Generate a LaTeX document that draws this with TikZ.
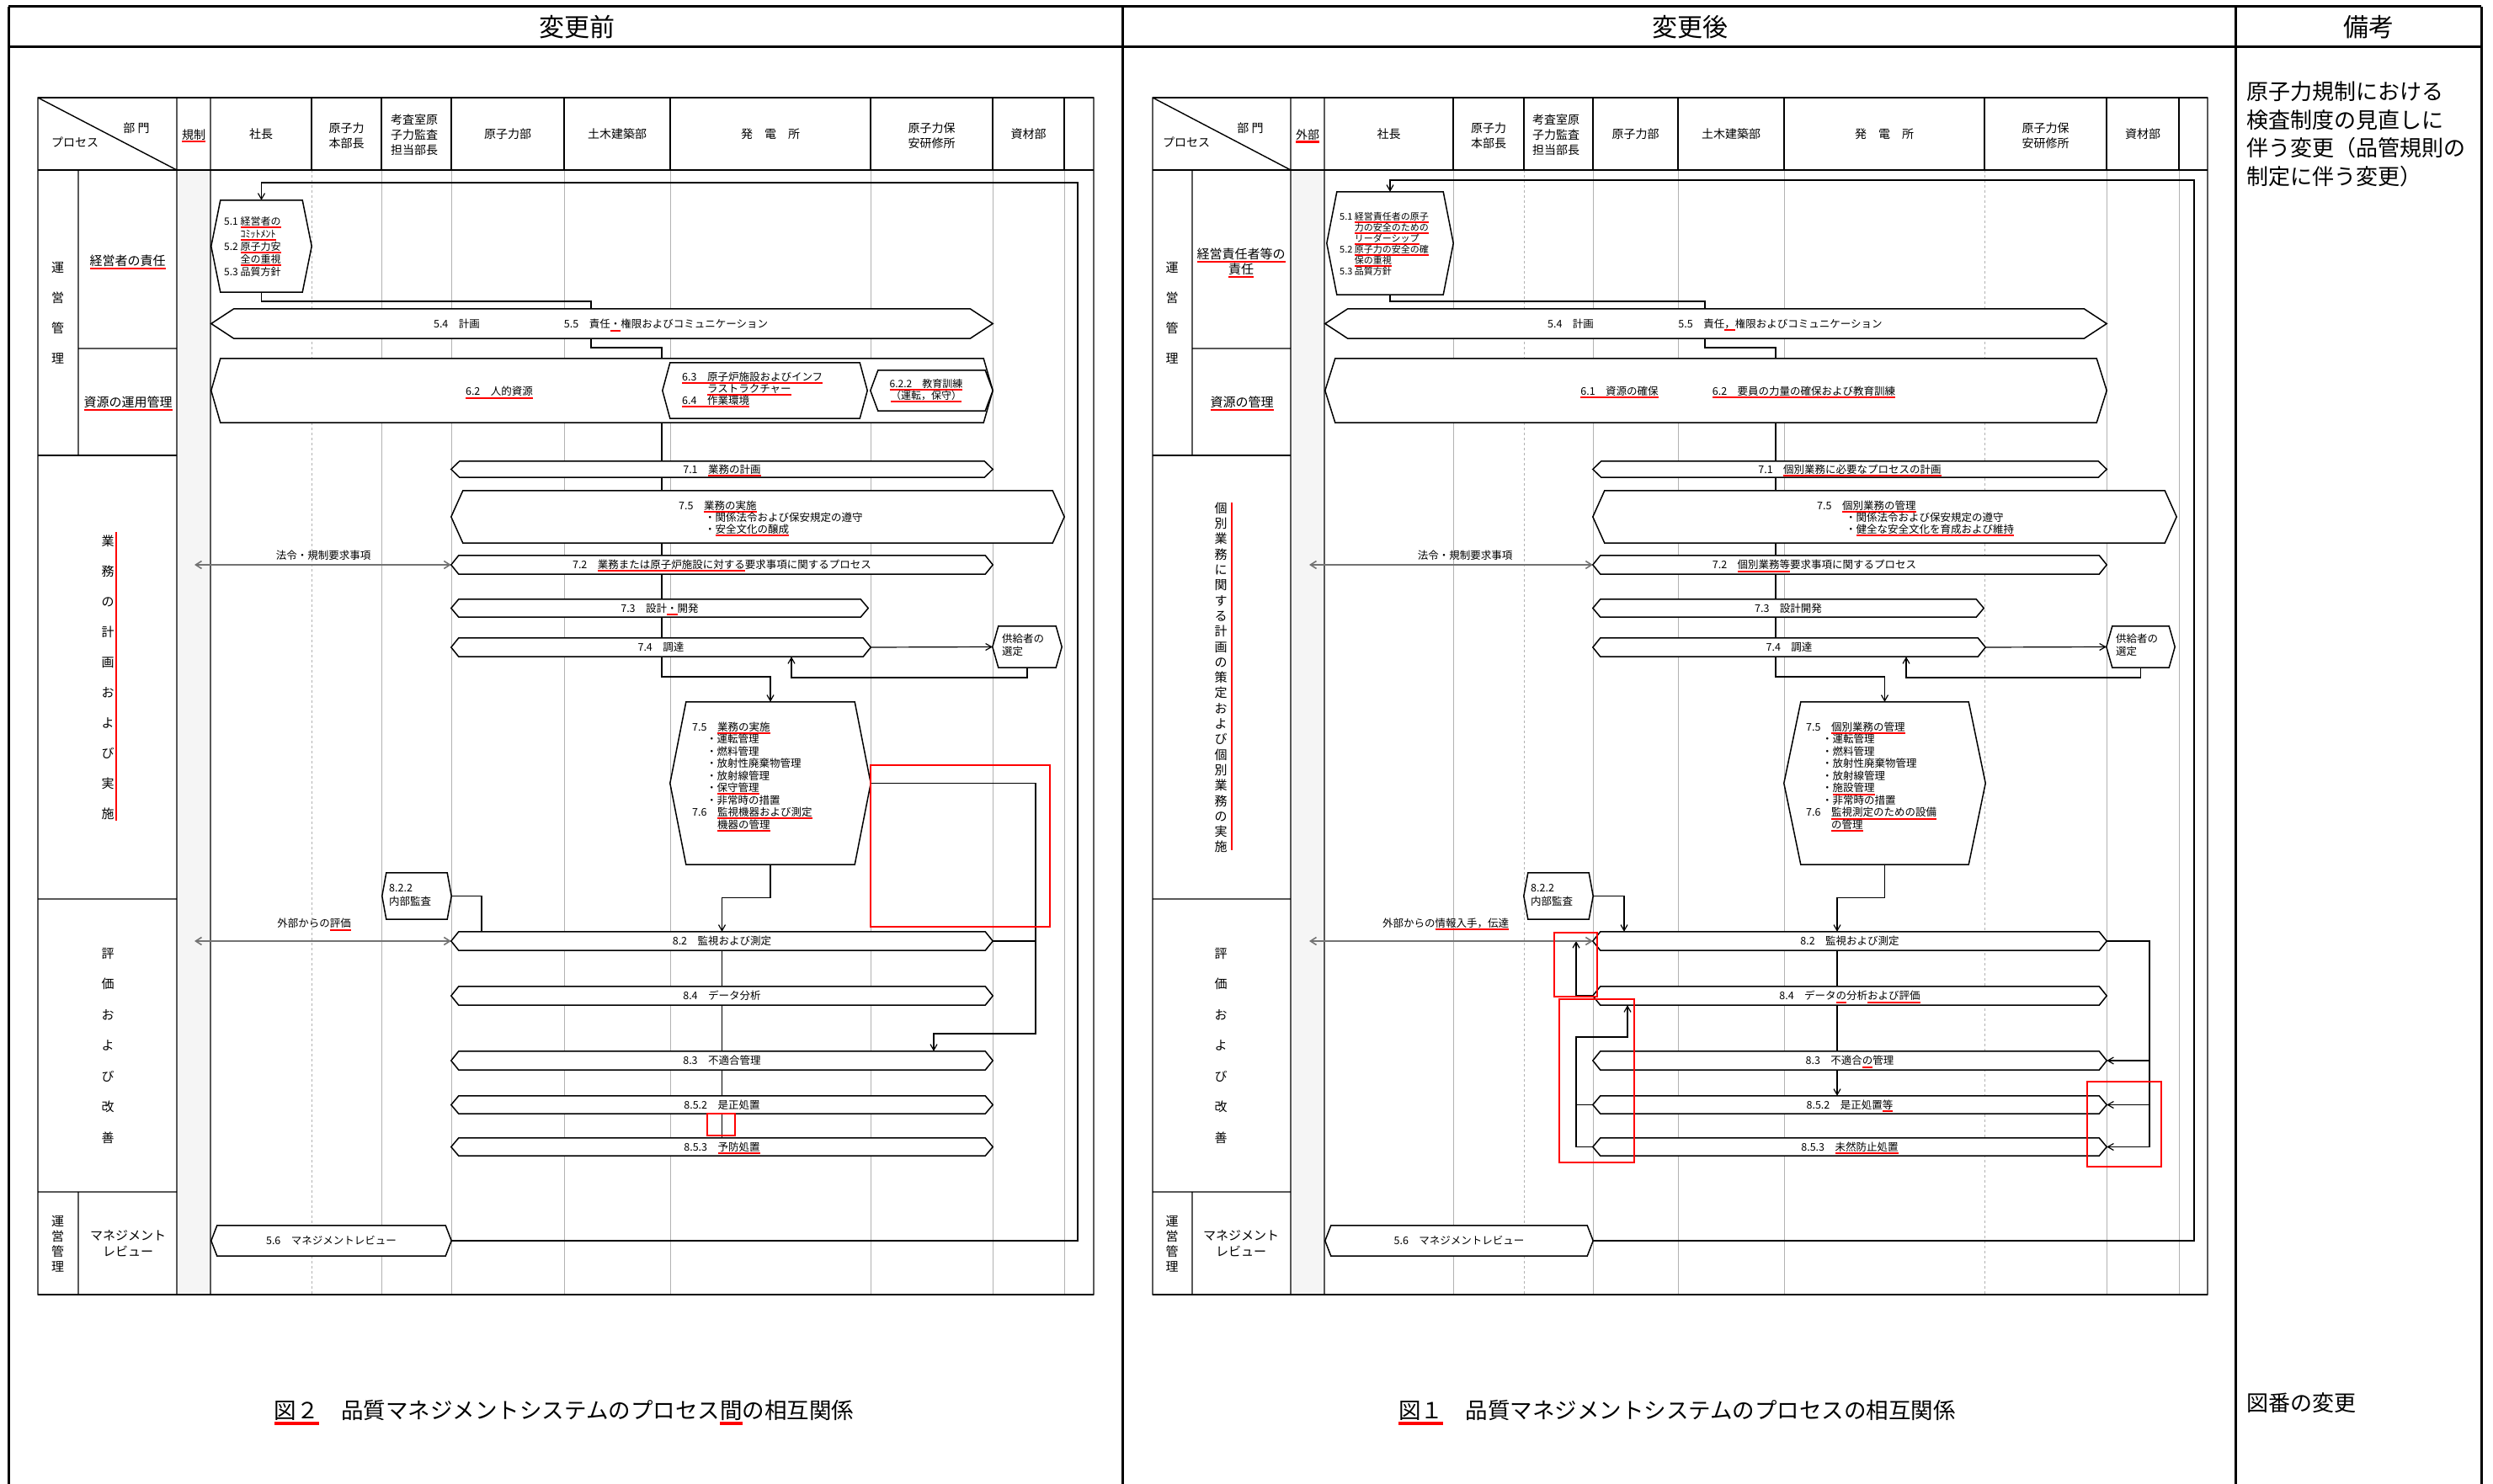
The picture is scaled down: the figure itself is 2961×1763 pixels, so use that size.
\documentclass[tikz,border=0pt]{standalone}
\usepackage{fontspec}
\setmainfont{Noto Sans CJK JP}
\usetikzlibrary{arrows.meta}
\pgfdeclarelayer{lines}
\pgfdeclarelayer{shapes}
\pgfsetlayers{lines,shapes,main}
\newsavebox\rulbox
\newcommand\rul[1]{\sbox\rulbox{#1}\rlap{\smash{\color{red}\rule[-0.3em]{\wd\rulbox}{0.16em}}}\usebox\rulbox}

\begin{document}
\begin{tikzpicture}[
    x=1pt, y=-1pt,
    pageline/.style={line width=3},
    frameline/.style={line width=1.4},
    lanegrid/.style={draw=black!30, line width=1},
    procbox/.style={inner sep=0, font=\fontsize{12.5}{14.5}\selectfont},
    procline/.style={draw=black, fill=white, line width=1.5},
    note/.style={inner sep=0, align=left, anchor=north west, font=\fontsize{12.5}{14.5}\selectfont},
    lane/.style={inner sep=0, align=center, font=\fontsize{15}{19}\selectfont},
    dept/.style={inner sep=0, align=center, font=\fontsize{14}{18}\selectfont},
    con/.style={line width=1.2},
    arr/.style={con, -{Straight Barb[length=7pt,width=8pt]}},
    darr/.style={draw=black!55, line width=1.6, {Straight Barb[length=7pt,width=9pt]}-{Straight Barb[length=7pt,width=9pt]}},
    redbox/.style={draw=red, line width=2}
]
\useasboundingbox (0,0) rectangle (2961,1763);

% page header
\node[inner sep=0, font=\fontsize{30}{36}\selectfont] (hbefore) at (685,32) {変更前};
\node[inner sep=0, font=\fontsize{30}{36}\selectfont] (hafter) at (2007,32) {変更後};
\node[inner sep=0, font=\fontsize{30}{36}\selectfont] (hnote) at (2813,32) {備考};
\node[inner sep=0, align=left, anchor=north west, font=\fontsize{26}{33.5}\selectfont] (rem1) at (2668,97)
    {原子力規制における\\検査制度の見直しに\\伴う変更（品管規則の\\制定に伴う変更）};
\node[inner sep=0, anchor=west, font=\fontsize{26}{30}\selectfont] (rem2) at (2668,1667) {図番の変更};
\node[inner sep=0, font=\fontsize{26.5}{30}\selectfont] (cap1) at (670,1675)
    {\rul{図２}　品質マネジメントシステムのプロセス\rul{間}の相互関係};
\node[inner sep=0, font=\fontsize{26.5}{30}\selectfont] (cap2) at (1992,1675)
    {\rul{図１}　品質マネジメントシステムのプロセスの相互関係};

% ---- before: header and lanes
\node[dept] (od0) at (162,152) {部 門};
\node[dept] (od1) at (89,169) {プロセス};
\node[dept] (odkisei) at (230,160) {\rul{規制}};
\node[dept] (odpres) at (310,159) {社長};
\node[dept] (odnhq) at (411.5,161) {原子力\\本部長};
\node[dept] (odaudit) at (492,160) {考査室原\\子力監査\\担当部長};
\node[dept] (odnuc) at (603,159) {原子力部};
\node[dept] (odcivil) at (733,159) {土木建築部};
\node[dept] (odplant) at (915,159) {発　電　所};
\node[dept] (odtrain) at (1106.5,161) {原子力保\\安研修所};
\node[dept] (odmat) at (1221.5,159) {資材部};

\node[lane, font=\fontsize{15}{36}\selectfont] (ol1) at (68.5,372) {運\\営\\管\\理};
\node[lane] (ol2) at (151.5,310) {\rul{経営者の責任}};
\node[lane] (ol3) at (152,478) {\rul{資源の運用管理}};
\node[lane, font=\fontsize{15}{36}\selectfont] (ol4) at (128,805) {業\\務\\の\\計\\画\\お\\よ\\び\\実\\施};
\node[lane, font=\fontsize{15}{36.5}\selectfont] (ol5) at (128,1242.5) {評\\価\\お\\よ\\び\\改\\善};
\node[lane, font=\fontsize{15}{18}\selectfont] (ol6) at (68.5,1478) {運\\営\\管\\理};
\node[lane] (ol7) at (152,1477) {マネジメント\\レビュー};

% ---- before: processes
\node[procbox, minimum width=119, minimum height=109] (o51) at (310.5,292.5) {};
\node[note, font=\fontsize{12}{15}\selectfont] (o51t) at (266,257.5)
    {5.1 \rul{経営者の}\\\phantom{5.1 }\rul{ｺﾐｯﾄﾒﾝﾄ}\\5.2 \rul{原子力安}\\\phantom{5.2 }\rul{全の重視}\\5.3 品質方針};
\node[procbox, minimum width=928, minimum height=35] (o54) at (715,384.5) {};
\node[procbox] (o54a) at (542.5,385) {5.4　計画};
\node[procbox] (o54b) at (791,385) {5.5　責任\rul{・}権限およびコミュニケーション};
\node[procbox, minimum width=928, minimum height=76] (o62) at (715,464) {};
\node[procbox] (o62t) at (593,465) {\rul{6.2　人的資源}};
\node[procbox, minimum width=243, minimum height=66] (o63) at (908.5,464) {};
\node[note, font=\fontsize{12.5}{14}\selectfont] (o63t) at (810,441.5)
    {\rul{6.3　原子炉施設およびインフ}\\\phantom{6.3　}\rul{ラストラクチャー}\\\rul{6.4　作業環境}};
\node[procbox, minimum width=145, minimum height=48] (o622) at (1106.5,464) {};
\node[procbox, align=center, font=\fontsize{12}{14}\selectfont] (o622t) at (1100,463) {\rul{6.2.2　教育訓練}\\\rul{（運転，保守）}};
\node[procbox, minimum width=643, minimum height=19] (o71) at (857.5,557.5) {7.1　\rul{業務の計画}};
\node[procbox, minimum width=728, minimum height=62] (o75b) at (900,614) {};
\node[note, font=\fontsize{12.5}{14}\selectfont] (o75bt) at (806,594.5)
    {7.5　\rul{業務の実施}\\\hspace*{31pt}・関係法令および保安規定の遵守\\\hspace*{31pt}・\rul{安全文化の醸成}};
\node[procbox, minimum width=643, minimum height=22] (o72) at (857.5,671) {7.2　\rul{業務または原子炉施設に対する}要求事項に関するプロセス};
\node[procbox, minimum width=495, minimum height=21] (o73) at (783.5,722.5) {7.3　設計\rul{・}開発};
\node[procbox, minimum width=498, minimum height=22] (o74) at (785,769) {7.4　調達};
\node[procbox, minimum width=82, minimum height=49] (o74s) at (1220,768.5) {};
\node[note, font=\fontsize{12.5}{15}\selectfont] (o74st) at (1190,752.5) {供給者の\\選定};
\node[procbox, minimum width=238, minimum height=193] (o75) at (915,930.5) {};
\node[note] (o75t) at (822,857.5)
    {7.5　\rul{業務の実施}\\
     \hspace*{17pt}・運転管理\\
     \hspace*{17pt}・燃料管理\\
     \hspace*{17pt}・放射性廃棄物管理\\
     \hspace*{17pt}・放射線管理\\
     \hspace*{17pt}・\rul{保守管理}\\
     \hspace*{17pt}・非常時の措置\\
     7.6　\rul{監視機器および測定}\\
     \phantom{7.6　}\rul{機器の管理}};
\node[procbox, minimum width=82, minimum height=55] (o822) at (495,1064.5) {};
\node[note, font=\fontsize{12.5}{16}\selectfont] (o822t) at (462,1050.5) {8.2.2\\内部監査};
\node[procbox, minimum width=643, minimum height=22] (o82) at (857.5,1118) {8.2　監視および測定};
\node[procbox, minimum width=643, minimum height=22] (o84) at (857.5,1183) {8.4　データ分析};
\node[procbox, minimum width=643, minimum height=22] (o83) at (857.5,1260) {8.3　不適合管理};
\node[procbox, minimum width=643, minimum height=21] (o852) at (857.5,1312.5) {8.5.2　是正処置};
\node[procbox, minimum width=643, minimum height=21] (o853) at (857.5,1362.5) {8.5.3　\rul{予防処置}};
\node[procbox, minimum width=285, minimum height=36] (o56) at (393.5,1474) {5.6　マネジメントレビュー};
\coordinate (olaw) at (231,671);
\coordinate (oext) at (231,1118);
\node[procbox] (olawt) at (384,660) {法令・規制要求事項};
\node[procbox] (oextt) at (373,1097) {外部からの\rul{評価}};

% ---- after: header and lanes
\node[dept] (nd0) at (1485,152) {部 門};
\node[dept] (nd1) at (1409,169) {プロセス};
\node[dept] (ndext) at (1553,160) {\rul{外部}};
\node[dept] (ndpres) at (1649.5,159) {社長};
\node[dept] (ndnhq) at (1768,161) {原子力\\本部長};
\node[dept] (ndaudit) at (1848,160) {考査室原\\子力監査\\担当部長};
\node[dept] (ndnuc) at (1942.5,159) {原子力部};
\node[dept] (ndcivil) at (2056,159) {土木建築部};
\node[dept] (ndplant) at (2238,159) {発　電　所};
\node[dept] (ndtrain) at (2429.5,161) {原子力保\\安研修所};
\node[dept] (ndmat) at (2545,159) {資材部};

\node[lane, font=\fontsize{15}{36}\selectfont] (nl1) at (1392,372) {運\\営\\管\\理};
\node[lane, font=\fontsize{15}{18}\selectfont] (nl2) at (1474,311) {\rul{経営責任者等の}\\\rul{責任}};
\node[lane] (nl3) at (1475,478) {\rul{資源の管理}};
\node[lane, font=\fontsize{15}{18.3}\selectfont] (nl4) at (1450,805)
    {個\\別\\業\\務\\に\\関\\す\\る\\計\\画\\の\\策\\定\\お\\よ\\び\\個\\別\\業\\務\\の\\実\\施};
\node[lane, font=\fontsize{15}{36.5}\selectfont] (nl5) at (1450,1242.5) {評\\価\\お\\よ\\び\\改\\善};
\node[lane, font=\fontsize{15}{18}\selectfont] (nl6) at (1392,1478) {運\\営\\管\\理};
\node[lane] (nl7) at (1474,1477) {マネジメント\\レビュー};

% ---- after: processes
\node[procbox, minimum width=150, minimum height=122] (n51) at (1651,289) {};
\node[note, font=\fontsize{11}{13}\selectfont] (n51t) at (1591,252)
    {5.1 \rul{経営責任者の原子}\\\phantom{5.1 }\rul{力の安全のための}\\\phantom{5.1 }\rul{リーダーシップ}\\5.2 \rul{原子力の安全の確}\\\phantom{5.2 }\rul{保の重視}\\5.3 品質方針};
\node[procbox, minimum width=928, minimum height=35] (n54) at (2038,384.5) {};
\node[procbox] (n54a) at (1865.5,385) {5.4　計画};
\node[procbox] (n54b) at (2114.5,385) {5.5　責任\rul{，}権限およびコミュニケーション};
\node[procbox, minimum width=928, minimum height=76] (n61) at (2038,464) {};
\node[procbox] (n61a) at (1923.5,465) {\rul{6.1　資源の確保}};
\node[procbox] (n61b) at (2142.5,465) {\rul{6.2　要員の力量の確保および教育訓練}};
\node[procbox, minimum width=610, minimum height=19] (n71) at (2197,557.5) {7.1　\rul{個別業務に必要なプロセスの計画}};
\node[procbox, minimum width=693, minimum height=62] (n75b) at (2238.5,614) {};
\node[note, font=\fontsize{12.5}{14}\selectfont] (n75bt) at (2158,594.5)
    {7.5　\rul{個別業務の管理}\\\hspace*{34pt}・関係法令および保安規定の遵守\\\hspace*{34pt}・\rul{健全な安全文化を育成および維持}};
\node[procbox, minimum width=610, minimum height=22] (n72) at (2197,671) {};
\node[procbox] (n72t) at (2155,671) {7.2　\rul{個別業務等}要求事項に関するプロセス};
\node[procbox, minimum width=464, minimum height=21] (n73) at (2124,722.5) {7.3　設計開発};
\node[procbox, minimum width=466, minimum height=22] (n74) at (2125,769) {7.4　調達};
\node[procbox, minimum width=81, minimum height=49] (n74s) at (2542.5,768.5) {};
\node[note, font=\fontsize{12.5}{15}\selectfont] (n74st) at (2513,752.5) {供給者の\\選定};
\node[procbox, minimum width=239, minimum height=193] (n75) at (2238.5,930.5) {};
\node[note] (n75t) at (2145,857.5)
    {7.5　\rul{個別業務の管理}\\
     \hspace*{19pt}・運転管理\\
     \hspace*{19pt}・燃料管理\\
     \hspace*{19pt}・放射性廃棄物管理\\
     \hspace*{19pt}・放射線管理\\
     \hspace*{19pt}・\rul{施設管理}\\
     \hspace*{19pt}・非常時の措置\\
     7.6　\rul{監視測定のための設備}\\
     \phantom{7.6　}\rul{の管理}};
\node[procbox, minimum width=82, minimum height=55] (n822) at (1851,1064.5) {};
\node[note, font=\fontsize{12.5}{16}\selectfont] (n822t) at (1818,1050.5) {8.2.2\\内部監査};
\node[procbox, minimum width=610, minimum height=22] (n82) at (2197,1118) {8.2　監視および測定};
\node[procbox, minimum width=610, minimum height=22] (n84) at (2197,1183) {8.4　データ\rul{の}分析\rul{および評価}};
\node[procbox, minimum width=610, minimum height=22] (n83) at (2197,1260) {8.3　不適合\rul{の}管理};
\node[procbox, minimum width=610, minimum height=21] (n852) at (2197,1312.5) {8.5.2　是正処置\rul{等}};
\node[procbox, minimum width=610, minimum height=21] (n853) at (2197,1362.5) {8.5.3　\rul{未然防止処置}};
\node[procbox, minimum width=318, minimum height=36] (n56) at (1733,1474) {5.6　マネジメントレビュー};
\coordinate (nlaw) at (1555,671);
\coordinate (nexto) at (1555,1118);
\node[procbox] (nlawt) at (1740,660) {法令・規制要求事項};
\node[procbox] (nextt) at (1717,1097) {外部からの\rul{情報入手，伝達}};

% red marks
\draw[red, line width=2] (138,632) -- (138,975);
\draw[red, line width=2] (1463,597) -- (1463,1010);
\draw[redbox] (1034,909) rectangle (1247,1101);
\draw[redbox] (840,1323) rectangle (873,1349);
\draw[redbox] (1846,1108) rectangle (1897,1184);
\draw[redbox] (1852,1187) rectangle (1941,1381);
\draw[redbox] (2479,1285) rectangle (2567,1386);

% process outlines
\begin{pgfonlayer}{shapes}
\foreach \n/\d in {o51/11,o54/27,o62/11,o63/9,o622/9,o71/10,o75b/14,o72/9,o73/9,o74/9,o74s/7,o75/19,
    o822/5,o82/9,o84/9,o83/9,o852/9,o853/9,o56/7,
    n51/12,n54/27,n61/12,n71/10,n75b/14,n72/9,n73/9,n74/9,n74s/7,n75/20,
    n822/5,n82/9,n84/9,n83/9,n852/9,n853/9,n56/7}
  \filldraw[procline] (\n.west) -- ([xshift=\d]\n.north west) -- ([xshift=-\d]\n.north east) -- (\n.east)
    -- ([xshift=-\d]\n.south east) -- ([xshift=\d]\n.south west) -- cycle;
\end{pgfonlayer}

\begin{pgfonlayer}{lines}
\fill[white] (0,0) rectangle (2961,1763);
% page frame
\draw[pageline] (10,8) -- (2947,8) (10,56) -- (2947,56);
\foreach \x in {10,1333,2655,2947} \draw[pageline] (\x,8) -- (\x,1763);

% before: table
\fill[black!4] (210,202) rectangle (250,1538);
\foreach \x in {453,536,670,796,1034,1179,1264} \draw[lanegrid] (\x,202) -- (\x,1538);
\draw[lanegrid, dashed] (370,202) -- (370,1538);
\foreach \x in {370,453,536,670,796,1034,1179,1264} \draw[frameline] (\x,116) -- (\x,202);
\draw[frameline] (45,116) rectangle (1299,1538) (210,116) -- (210,1538) (250,116) -- (250,1538)
    (45,116) -- (210,202) (93,202) -- (93,541) (93,414) -- (210,414)
    (45,1068) -- (210,1068) (45,1416) -- (210,1416) (93,1416) -- (93,1538);
\draw[line width=2.5] (45,116) -- (1299,116) (45,202) -- (1299,202) (45,1538) -- (1299,1538) (45,541) -- (210,541);

% after: table
\fill[black!4] (1533,202) rectangle (1573,1538);
\foreach \x in {1726,1892,1993,2119,2502,2588} \draw[lanegrid] (\x,202) -- (\x,1538);
\foreach \x in {1810,2357} \draw[lanegrid, dashed] (\x,202) -- (\x,1538);
\foreach \x in {1726,1810,1892,1993,2119,2357,2502,2588} \draw[frameline] (\x,116) -- (\x,202);
\draw[frameline] (1369,116) rectangle (2622,1538) (1533,116) -- (1533,1538) (1573,116) -- (1573,1538)
    (1369,116) -- (1533,202) (1416,202) -- (1416,541) (1416,414) -- (1533,414)
    (1369,1068) -- (1533,1068) (1369,1416) -- (1533,1416) (1416,1416) -- (1416,1538);
\draw[line width=2.5] (1369,116) -- (2622,116) (1369,202) -- (2622,202) (1369,1538) -- (2622,1538) (1369,541) -- (1533,541);

% before: connectors
\draw[arr] (o56.east) -| (1280,217) -| (o51.north);
\draw[con] (o51.south) |- (702,358) -- (o54.north -| 702,0);
\draw[con] (o54.south -| 702,0) |- (786,413) -- (o62.north -| 786,0);
\draw[arr] (o62.south -| 786,0) |- (915,804) -- (o75.north);
\draw[arr] (o74.east) -- (o74s.west);
\draw[arr] (o74s.south) |- (940,805) -- (o74.south -| 940,0);
\draw[arr] (o75.east) -| (1230,1228) -| (o83.north -| 1109,0);
\draw[con] (o82.east) -- (o82.east -| 1230,0);
\draw[arr] (o75.south) -- ++(0,39) -| (o82.north);
\draw[con] (o822.east) -| (o82.north -| 572,0);
\draw[con] (o82.south) -- (o853.north);
\draw[darr] (olaw) -- (o72.west);
\draw[darr] (oext) -- (o82.west);

% after: connectors
\draw[arr] (n56.east) -| (2606,214) -| (n51.north);
\draw[con] (n51.south) |- (2025,358) -- (n54.north -| 2025,0);
\draw[con] (n54.south -| 2025,0) |- (2109,413) -- (n61.north -| 2109,0);
\draw[arr] (n61.south -| 2109,0) |- (2238.5,804) -- (n75.north);
\draw[arr] (n74.east) -- (n74s.west);
\draw[arr] (n74s.south) |- (2264,805) -- (n74.south -| 2264,0);
\draw[arr] (n75.south) -- ++(0,39) -| (n82.north -| 2182,0);
\draw[arr] (n822.east) -| (n82.north -| 1929,0);
\draw[arr] (n82.south -| 2182,0) -- (n852.north -| 2182,0);
\draw[con] (n82.east) -| (n853.east -| 2553,0);
\foreach \t in {n83,n852,n853} \draw[arr] (\t.east -| 2553,0) -- (\t.east);
\draw[arr] (n84.west) -| (n82.west -| 1872,0);
\draw[arr] (n853.west) -| (1872,1232) -| (n84.south -| 1933,0);
\draw[con] (n852.west) -- (n852.west -| 1872,0);
\draw[darr] (nlaw) -- (n72.west);
\draw[darr] (nexto) -- (n82.west);
\end{pgfonlayer}
\end{tikzpicture}
\end{document}
